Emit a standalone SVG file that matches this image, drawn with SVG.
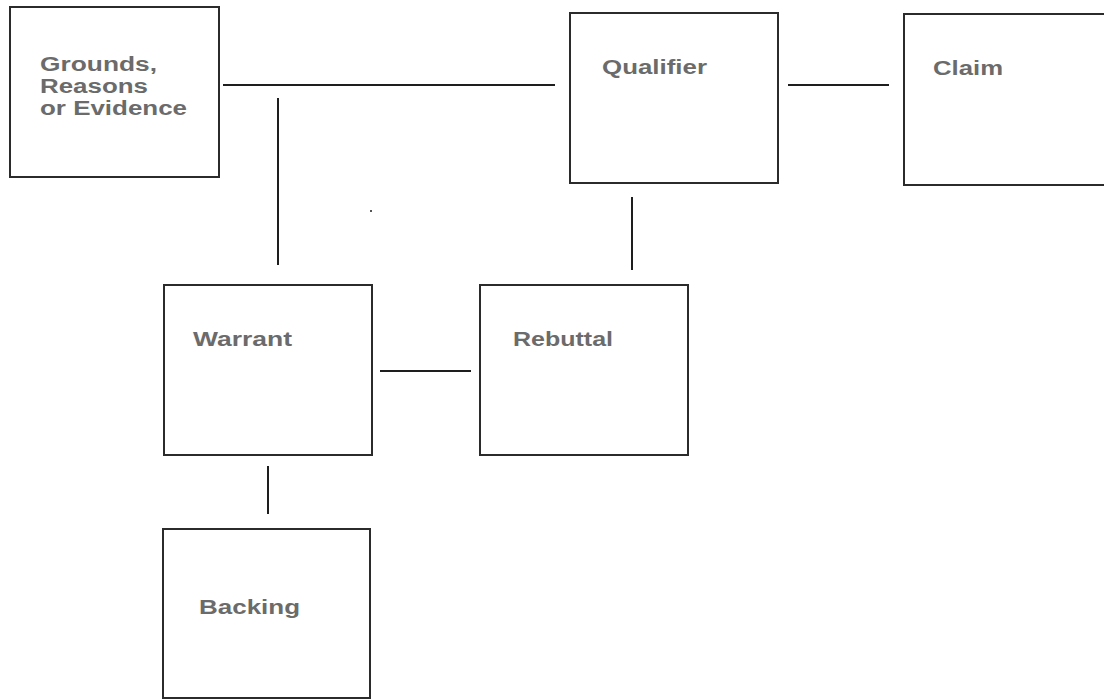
<svg xmlns="http://www.w3.org/2000/svg" width="1104" height="699" viewBox="0 0 1104 699">
<style>
.box{fill:#fff;stroke:#2b2b2b;stroke-width:2}
.ln{stroke:#1e1e1e;stroke-width:2;fill:none}
.lbl{font-family:"Liberation Sans",Arial,sans-serif;font-weight:bold;font-size:19.5px;fill:#6b6b6b}
</style>
<rect width="1104" height="699" fill="#fff"/>
<g id="connectors">
<line class="ln" x1="223" y1="85" x2="555" y2="85"/>
<line class="ln" x1="278" y1="98" x2="278" y2="265"/>
<line class="ln" x1="788" y1="85" x2="889" y2="85"/>
<line class="ln" x1="632" y1="197" x2="632" y2="270"/>
<line class="ln" x1="380" y1="371" x2="471" y2="371"/>
<line class="ln" x1="268" y1="466" x2="268" y2="514"/>
</g>
<g id="grounds">
<rect class="box" x="10" y="7" width="209" height="170"/>
<text class="lbl" x="40" y="71" textLength="117" lengthAdjust="spacingAndGlyphs">Grounds,</text>
<text class="lbl" x="40" y="92.5" textLength="108" lengthAdjust="spacingAndGlyphs">Reasons</text>
<text class="lbl" x="40" y="114.5" textLength="147" lengthAdjust="spacingAndGlyphs">or Evidence</text>
</g>
<g id="qualifier">
<rect class="box" x="570" y="13" width="208" height="170"/>
<text class="lbl" x="602" y="74" textLength="105" lengthAdjust="spacingAndGlyphs">Qualifier</text>
</g>
<g id="claim">
<rect class="box" x="904" y="14" width="210" height="171"/>
<text class="lbl" x="933" y="75" textLength="70" lengthAdjust="spacingAndGlyphs">Claim</text>
</g>
<g id="warrant">
<rect class="box" x="164" y="285" width="208" height="170"/>
<text class="lbl" x="193" y="346" textLength="99" lengthAdjust="spacingAndGlyphs">Warrant</text>
</g>
<g id="rebuttal">
<rect class="box" x="480" y="285" width="208" height="170"/>
<text class="lbl" x="513" y="346" textLength="100" lengthAdjust="spacingAndGlyphs">Rebuttal</text>
</g>
<g id="backing">
<rect class="box" x="163" y="529" width="207" height="169"/>
<text class="lbl" x="199" y="614" textLength="101" lengthAdjust="spacingAndGlyphs">Backing</text>
</g>
<rect x="370" y="210" width="2" height="2" fill="#555"/>
</svg>
